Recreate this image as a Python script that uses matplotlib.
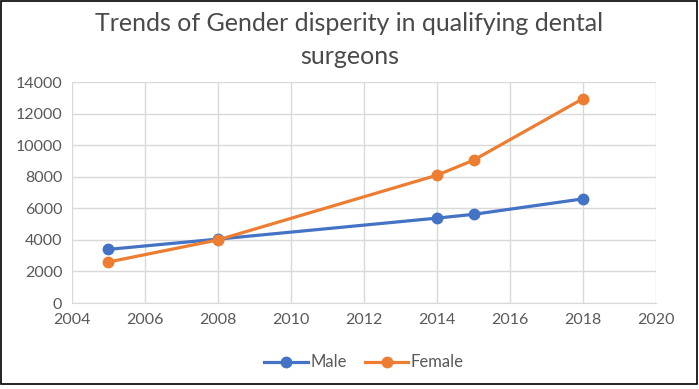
import matplotlib
matplotlib.use("Agg")
import matplotlib.pyplot as plt
from matplotlib.patches import Rectangle

years = [2005, 2008, 2014, 2015, 2018]
male = [3400, 4050, 5380, 5620, 6600]
female = [2600, 4000, 8100, 9050, 12950]
xticks = [2004, 2006, 2008, 2010, 2012, 2014, 2016, 2018, 2020]
yticks = [0, 2000, 4000, 6000, 8000, 10000, 12000, 14000]
title = "Trends of Gender disperity in qualifying dental\nsurgeons"

plt.rcParams['font.family'] = ['Lato', 'DejaVu Sans']

fig = plt.figure(figsize=(6.99, 3.89), dpi=100)
ax = fig.add_axes([0.103, 0.221, 0.8355, 0.568])

ax.plot(years, male, color='#4472C4', lw=2.3, marker='o', ms=7.5, label='Male', zorder=3)
ax.plot(years, female, color='#ED7D31', lw=2.3, marker='o', ms=7.5, label='Female', zorder=3)

ax.set_xlim(2004, 2020)
ax.set_ylim(0, 14000)
ax.set_xticks(xticks)
ax.set_yticks(yticks)
ax.grid(True, color='#D9D9D9', lw=1)
ax.set_axisbelow(True)
for s in ax.spines.values():
    s.set_visible(False)
ax.spines['bottom'].set_visible(True)
ax.spines['bottom'].set_color('#D9D9D9')
ax.tick_params(length=0, labelsize=11.5, labelcolor='#595959', pad=7)

fig.text(0.5, 0.968, title, ha='center', va='top', fontsize=18, color='#4a4a4a', linespacing=1.5)

ax.legend(loc='upper center', bbox_to_anchor=(0.5, -0.165), ncol=2, frameon=False,
          fontsize=12, labelcolor='#595959', handlelength=2.6, columnspacing=1.1, handletextpad=0.15)

fig.patches.append(Rectangle((0.001, 0.014), 0.996, 0.984, transform=fig.transFigure,
                             fill=False, edgecolor='black', lw=1.2))

fig.savefig('out.png', dpi=100)
